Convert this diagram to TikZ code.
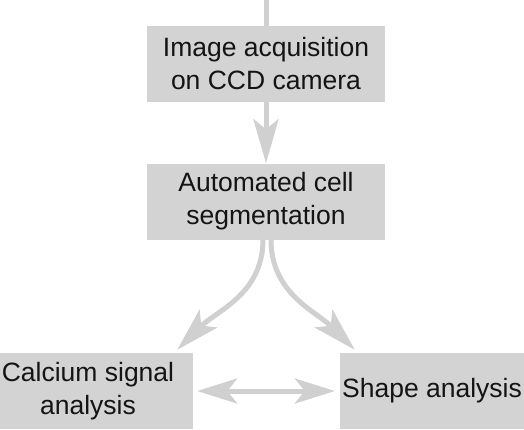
\documentclass[tikz,border=0pt]{standalone}
\usepackage{fontspec}
\setmainfont{Liberation Sans}
\usetikzlibrary{arrows.meta,positioning}
\definecolor{boxgray}{RGB}{211,211,211}
\definecolor{arrgray}{RGB}{208,208,208}
\definecolor{txtgray}{RGB}{20,20,20}

\begin{document}
\begin{tikzpicture}[x=1pt,y=1pt,
    stage/.style={fill=boxgray,text=txtgray,align=center,inner sep=0pt,minimum height=76pt,
        font=\fontsize{26.5}{33}\selectfont},
    link/.style={draw=arrgray,line width=5pt},
    flow/.style={link,-{Stealth[length=44pt,width=25pt,inset=10pt]}}]
    \useasboundingbox (0,0) rectangle (524,429);
    % boxes
    \node[stage,minimum width=238pt] (acq) at (266,365) {Image acquisition\\on CCD camera};
    \node[stage,minimum width=238pt] (seg) at (266,227.5) {Automated cell\\segmentation};
    \node[stage,minimum width=210pt] (calc) at (88,38) {Calcium signal\\analysis};
    \node[stage,minimum width=184pt] (shape) at (432,38) {Shape analysis};
    % arrows
    \coordinate (top) at (266,429);
    \draw[link] (top) -- (acq.north);
    \draw[flow] (acq.south) -- (seg.north);
    \draw[flow] ([xshift=-3pt]seg.south) to[out=-90,in=45] ([xshift=-16pt,yshift=3pt]calc.north east);
    \draw[flow] ([xshift=5pt]seg.south) to[out=-90,in=135] ([xshift=15pt,yshift=3pt]shape.north west);
    \draw[flow,{Stealth[length=40pt,width=25pt,inset=10pt]}-{Stealth[length=40pt,width=25pt,inset=10pt]},
        shorten <=4pt,shorten >=5pt] (calc.east) -- (shape.west);
\end{tikzpicture}
\end{document}
